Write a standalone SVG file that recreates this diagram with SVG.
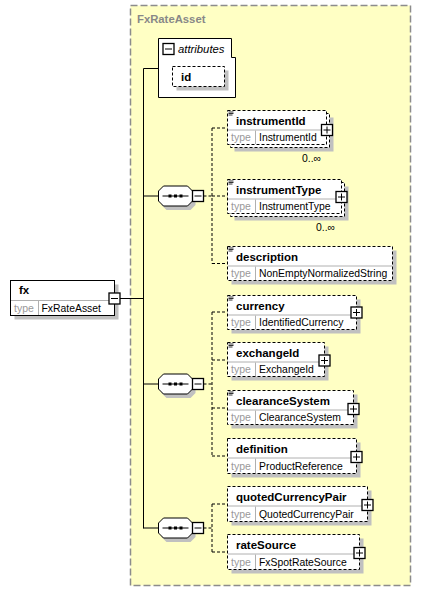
<svg xmlns="http://www.w3.org/2000/svg" width="421" height="591" viewBox="0 0 421 591">
<defs>
<style>
.bg{fill:#ffffc4;stroke:#8c8c8c;stroke-width:1.5;stroke-dasharray:7,3}
.sh{fill:#c0c0c0}
.box{fill:#fff;stroke:#000;stroke-width:1}
.dbox{fill:#fff;stroke:#000;stroke-width:1;stroke-dasharray:3,2}
.sep{stroke:#b0b0b0;stroke-width:1}
.ln{stroke:#000;stroke-width:1;fill:none}
.dl{stroke:#000;stroke-width:1;fill:none;stroke-dasharray:3,2}
.name{font-family:"Liberation Sans",Arial,sans-serif;font-size:11.5px;font-weight:bold;fill:#000}
.tl{font-family:"Liberation Sans",Arial,sans-serif;font-size:10.5px;fill:#999}
.tv{font-family:"Liberation Sans",Arial,sans-serif;font-size:10.4px;fill:#000}
.occ{font-family:"Liberation Sans",Arial,sans-serif;font-size:10.4px;fill:#000}
.btn{fill:#fff;stroke:#000;stroke-width:1.3}
</style>
<g id="plus">
<rect class="btn" x="-5.5" y="-5.5" width="11" height="11"/>
<path class="ln" d="M-3.5,0H3.5M0,-3.5V3.5"/>
</g>
<g id="minus">
<rect class="btn" x="-5.5" y="-5.5" width="11" height="11"/>
<path class="ln" d="M-3.5,0H3.5"/>
</g>
<g id="doc">
<path stroke="#000" stroke-width="0.8" d="M1,1.5H6M1,3H6M1,4.5H5"/>
</g>
<g id="seq">
<polygon class="sh" points="8,-6 32,-6 37,-1 37,9 32,14 8,14 3,9 3,-1"/>
<polygon class="box" points="5,-10 29,-10 34,-5 34,5 29,10 5,10 0,5 0,-5"/>
<path class="ln" d="M4,0H30"/>
<rect x="10" y="-1.5" width="3" height="3" fill="#000"/>
<rect x="15.5" y="-1.5" width="3" height="3" fill="#000"/>
<rect x="21" y="-1.5" width="3" height="3" fill="#000"/>
<use href="#minus" x="39.5" y="0"/>
</g>
</defs>

<rect class="bg" x="130.5" y="5.5" width="280" height="580"/>
<text x="137" y="23" font-family="Liberation Sans,Arial,sans-serif" font-size="11.3" font-weight="bold" fill="#888">FxRateAsset</text>

<g id="connectors">
<path class="ln" d="M143.5,68.5V528.5M143.5,68.5H158.5M143.5,196H158.5M143.5,384H158.5M143.5,528H158.5M120,298.5H143.5"/>
<path class="dl" d="M203.5,196H212M212,128V263.5M212,128H227.5M212,196H227.5M212,263.5H227.5"/>
<path class="dl" d="M203.5,384H212M212,312V456M212,312H227.5M212,360H227.5M212,408H227.5M212,456H227.5"/>
<path class="dl" d="M203.5,528H212M212,504V552M212,504H227.5M212,552H227.5"/>
</g>

<g id="fx">
<rect class="sh" x="14.5" y="284.5" width="104" height="35"/>
<rect class="box" x="10.5" y="280.5" width="104" height="35"/>
<line class="sep" x1="11" y1="300.5" x2="114" y2="300.5"/>
<line class="sep" x1="38.5" y1="301" x2="38.5" y2="315"/>
<text class="name" x="19" y="294">fx</text>
<text class="tl" x="14" y="311.5">type</text>
<text class="tv" x="41.5" y="311.5">FxRateAsset</text>
<use href="#minus" x="114.5" y="298.5"/>
</g>

<g id="attributes">
<path class="box" d="M158.5,38.5H231.5V57.5H235.5V97.5H158.5Z"/>
<use href="#minus" x="168.5" y="49"/>
<text x="178" y="53" font-family="Liberation Sans,Arial,sans-serif" font-size="11.3" font-style="italic" fill="#000">attributes</text>
<g id="attr-id">
<rect class="sh" x="176.5" y="70.5" width="52" height="20"/>
<rect class="dbox" x="172.5" y="66.5" width="52" height="20"/>
<text class="name" x="181" y="81">id</text>
</g>
</g>

<g id="seq1"><use href="#seq" x="158.5" y="196"/></g>
<g id="seq2"><use href="#seq" x="158.5" y="384"/></g>
<g id="seq3"><use href="#seq" x="158.5" y="528"/></g>

<g id="instrumentId">
<rect class="sh" x="234.5" y="117.5" width="99" height="34"/>
<rect class="dbox" x="230.5" y="113.5" width="99" height="34"/>
<rect class="dbox" x="227.5" y="110.5" width="99" height="34"/>
<line class="sep" x1="228" y1="130" x2="326" y2="130"/>
<line class="sep" x1="255.5" y1="130.5" x2="255.5" y2="144"/>
<use href="#doc" x="227.5" y="110.5"/>
<text class="name" x="236" y="124.5">instrumentId</text>
<text class="tl" x="231" y="141">type</text>
<text class="tv" x="259" y="141">InstrumentId</text>
<use href="#plus" x="327" y="130"/>
<text class="occ" x="302" y="162">0..∞</text>
</g>

<g id="instrumentType">
<rect class="sh" x="234.5" y="186.5" width="114" height="34"/>
<rect class="dbox" x="230.5" y="182.5" width="114" height="34"/>
<rect class="dbox" x="227.5" y="179.5" width="114" height="34"/>
<line class="sep" x1="228" y1="199" x2="341" y2="199"/>
<line class="sep" x1="255.5" y1="199.5" x2="255.5" y2="213"/>
<use href="#doc" x="227.5" y="179.5"/>
<text class="name" x="236" y="193.5">instrumentType</text>
<text class="tl" x="231" y="210">type</text>
<text class="tv" x="259" y="210">InstrumentType</text>
<use href="#plus" x="341.5" y="197"/>
<text class="occ" x="316" y="231">0..∞</text>
</g>

<g id="description">
<rect class="sh" x="231.5" y="250.5" width="165" height="34"/>
<rect class="dbox" x="227.5" y="246.5" width="165" height="34"/>
<line class="sep" x1="228" y1="266" x2="392" y2="266"/>
<line class="sep" x1="255.5" y1="266.5" x2="255.5" y2="280"/>
<use href="#doc" x="227.5" y="246.5"/>
<text class="name" x="236" y="260.5">description</text>
<text class="tl" x="231" y="277">type</text>
<text class="tv" x="259" y="277">NonEmptyNormalizedString</text>
</g>

<g id="currency">
<rect class="sh" x="231.5" y="299.5" width="129" height="34"/>
<rect class="dbox" x="227.5" y="295.5" width="129" height="34"/>
<line class="sep" x1="228" y1="315" x2="356" y2="315"/>
<line class="sep" x1="255.5" y1="315.5" x2="255.5" y2="329"/>
<use href="#doc" x="227.5" y="295.5"/>
<text class="name" x="236" y="309.5">currency</text>
<text class="tl" x="231" y="326">type</text>
<text class="tv" x="259" y="326">IdentifiedCurrency</text>
<use href="#plus" x="356.5" y="312.5"/>
</g>

<g id="exchangeId">
<rect class="sh" x="231.5" y="346.5" width="97" height="34"/>
<rect class="dbox" x="227.5" y="342.5" width="97" height="34"/>
<line class="sep" x1="228" y1="362" x2="324" y2="362"/>
<line class="sep" x1="255.5" y1="362.5" x2="255.5" y2="376"/>
<use href="#doc" x="227.5" y="342.5"/>
<text class="name" x="236" y="356.5">exchangeId</text>
<text class="tl" x="231" y="373">type</text>
<text class="tv" x="259" y="373">ExchangeId</text>
<use href="#plus" x="324.5" y="360.5"/>
</g>

<g id="clearanceSystem">
<rect class="sh" x="231.5" y="394.5" width="126" height="34"/>
<rect class="dbox" x="227.5" y="390.5" width="126" height="34"/>
<line class="sep" x1="228" y1="410" x2="353" y2="410"/>
<line class="sep" x1="255.5" y1="410.5" x2="255.5" y2="424"/>
<use href="#doc" x="227.5" y="390.5"/>
<text class="name" x="236" y="404.5">clearanceSystem</text>
<text class="tl" x="231" y="421">type</text>
<text class="tv" x="259" y="421">ClearanceSystem</text>
<use href="#plus" x="353.5" y="409"/>
</g>

<g id="definition">
<rect class="sh" x="231.5" y="442.5" width="129" height="35"/>
<rect class="dbox" x="227.5" y="438.5" width="129" height="35"/>
<line class="sep" x1="228" y1="458" x2="356" y2="458"/>
<line class="sep" x1="255.5" y1="458.5" x2="255.5" y2="473"/>
<text class="name" x="236" y="452.5">definition</text>
<text class="tl" x="231" y="469.5">type</text>
<text class="tv" x="259" y="469.5">ProductReference</text>
<use href="#plus" x="356.5" y="457"/>
</g>

<g id="quotedCurrencyPair">
<rect class="sh" x="231.5" y="490.5" width="140" height="35"/>
<rect class="dbox" x="227.5" y="486.5" width="140" height="35"/>
<line class="sep" x1="228" y1="506" x2="367" y2="506"/>
<line class="sep" x1="255.5" y1="506.5" x2="255.5" y2="521"/>
<text class="name" x="236" y="500.5">quotedCurrencyPair</text>
<text class="tl" x="231" y="517.5">type</text>
<text class="tv" x="259" y="517.5">QuotedCurrencyPair</text>
<use href="#plus" x="367.5" y="505"/>
</g>

<g id="rateSource">
<rect class="sh" x="231.5" y="538.5" width="132" height="35"/>
<rect class="dbox" x="227.5" y="534.5" width="132" height="35"/>
<line class="sep" x1="228" y1="554" x2="359" y2="554"/>
<line class="sep" x1="255.5" y1="554.5" x2="255.5" y2="569"/>
<text class="name" x="236" y="548.5">rateSource</text>
<text class="tl" x="231" y="565.5">type</text>
<text class="tv" x="259" y="565.5">FxSpotRateSource</text>
<use href="#plus" x="359.5" y="553"/>
</g>
</svg>
